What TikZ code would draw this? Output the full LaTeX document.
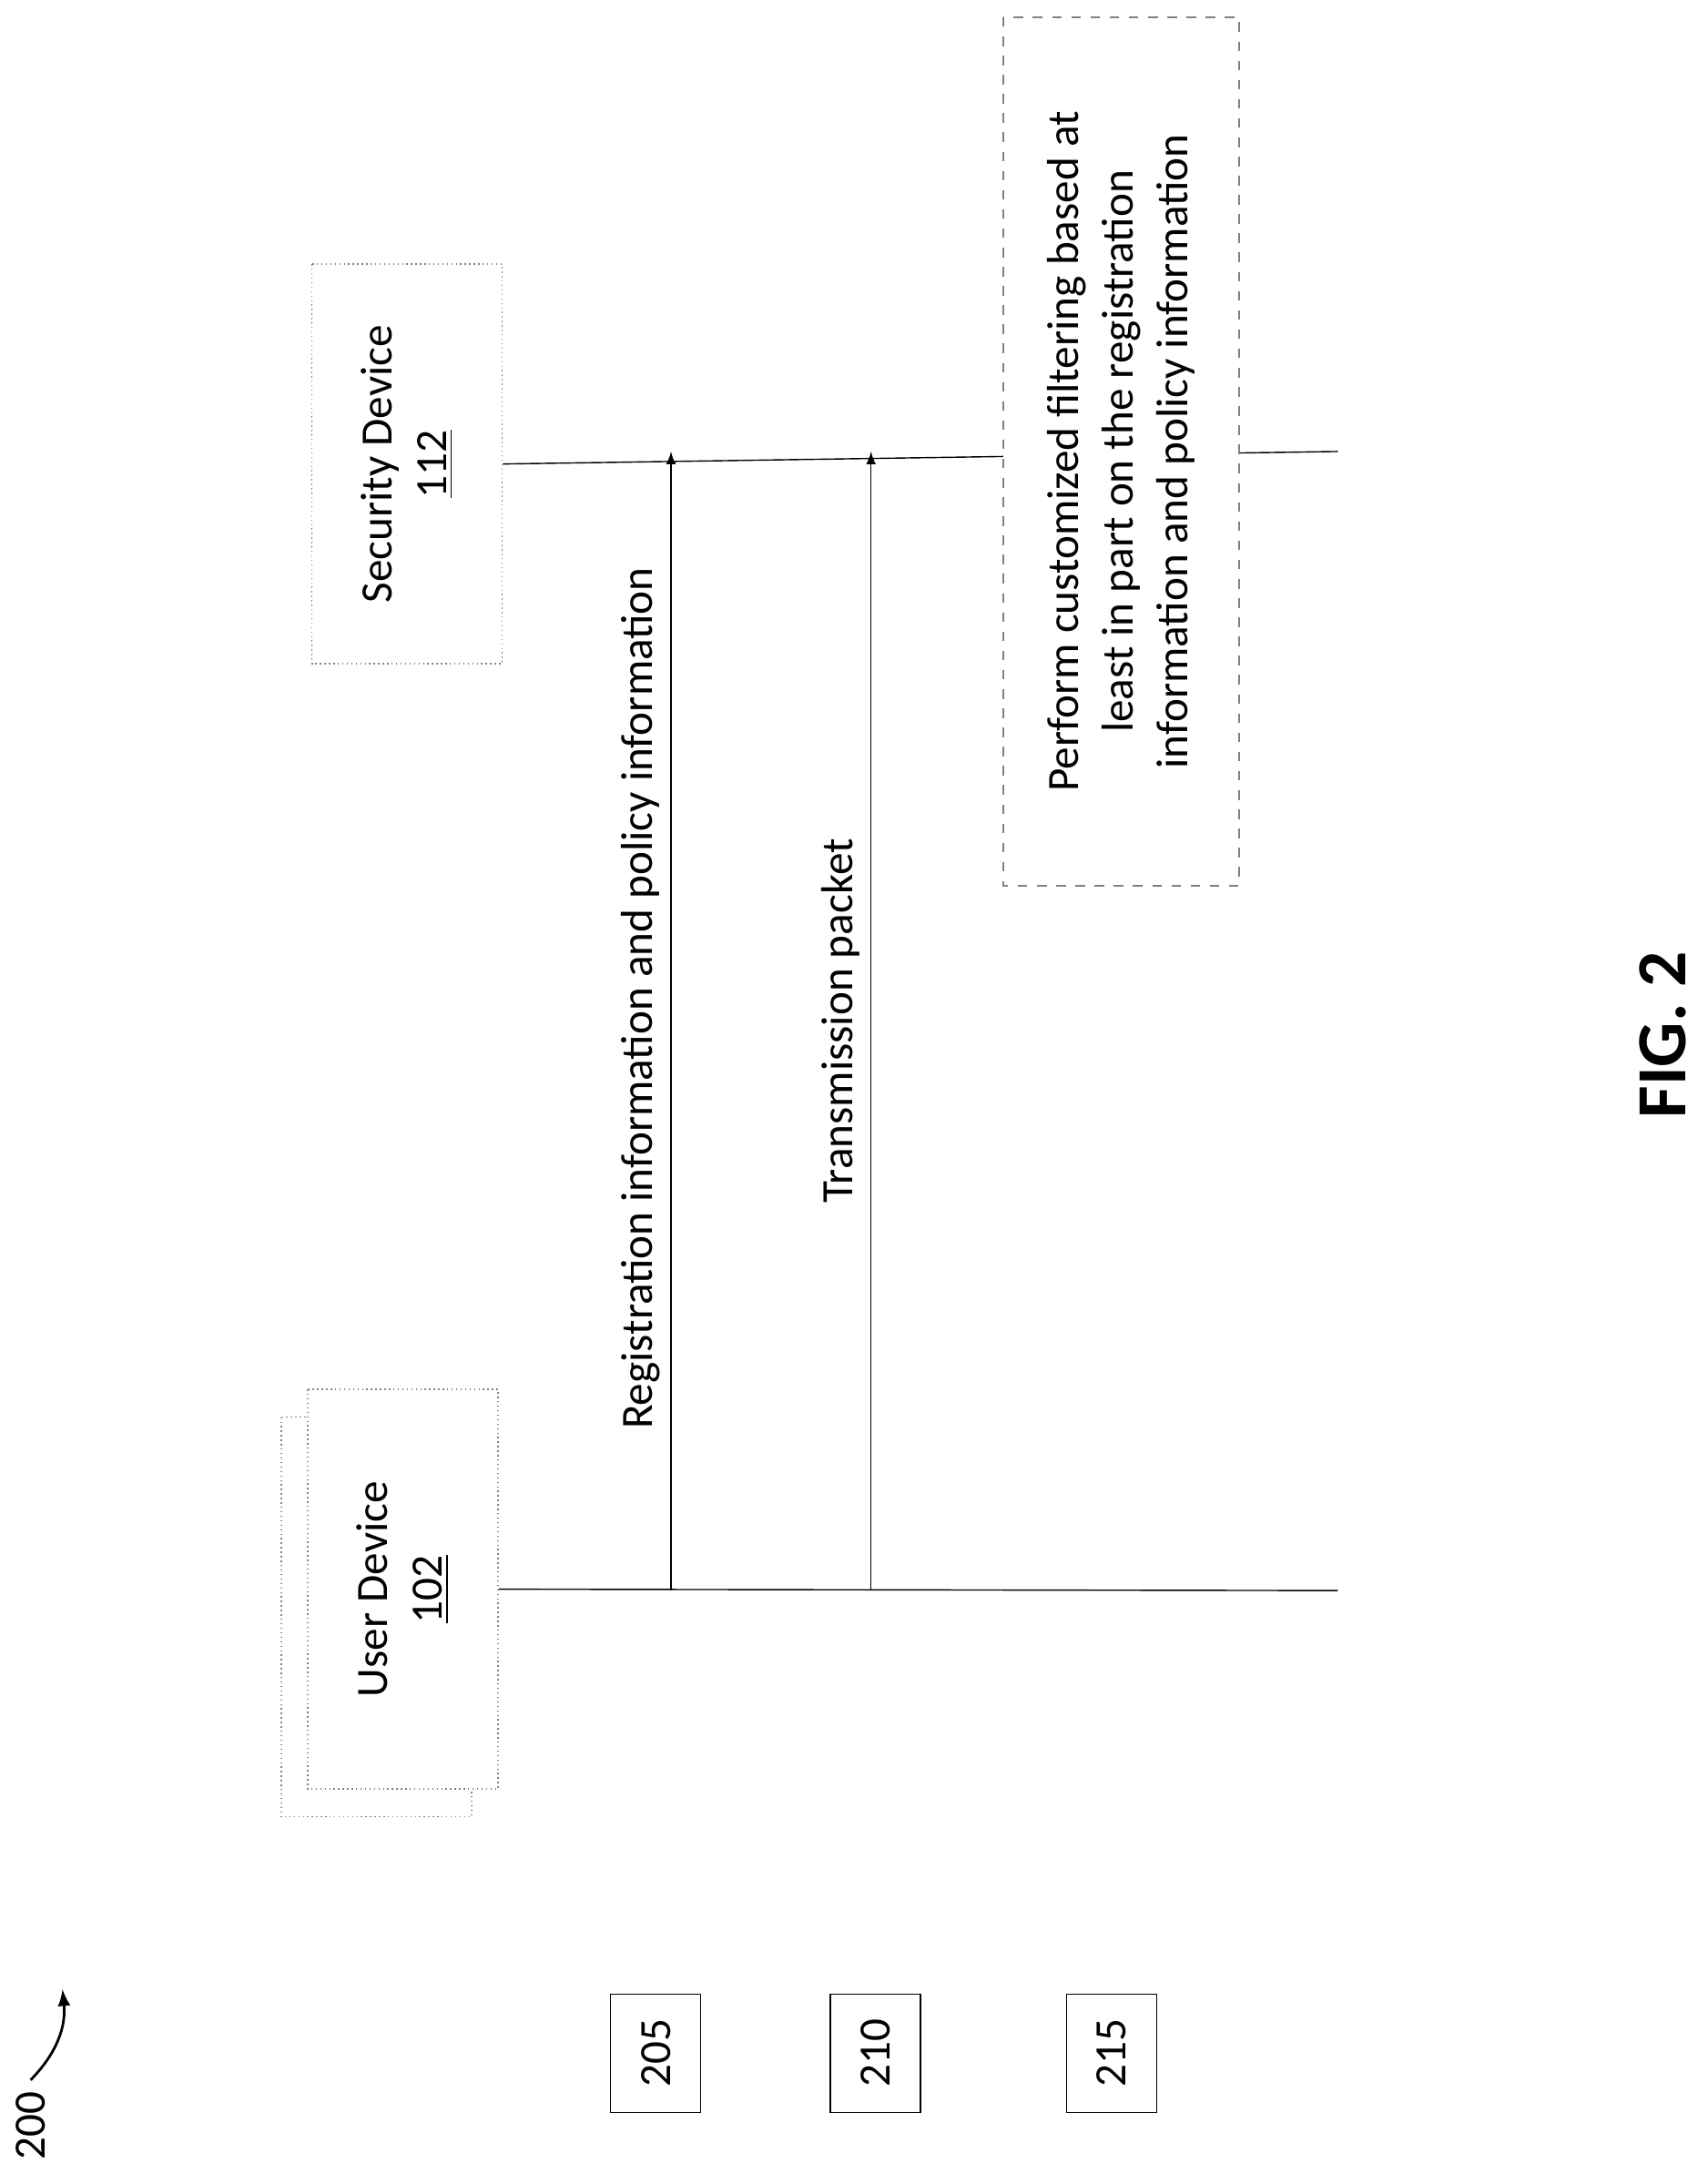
\documentclass[tikz,border=0pt]{standalone}
\usepackage{fontspec}
\setmainfont{Carlito}
\usetikzlibrary{positioning}
\tikzset{
  actorbox/.style={draw=gray, densely dotted, rotate=90, minimum width=4.39cm,
    minimum height=2.09cm, align=center, font=\fontsize{14}{17}\selectfont, fill=white},
  stepbox/.style={draw, rotate=90, minimum width=1.3cm, minimum height=0.99cm,
    font=\fontsize{14}{17}\selectfont},
  msg/.style={-latex, thin},
  msglabel/.style={rotate=90, anchor=south, font=\fontsize{14}{17}\selectfont}
}
\begin{document}
\begin{tikzpicture}[x=0.01526cm, y=-0.01526cm]
    \useasboundingbox (0,0) rectangle (1229,1565);
    % actors
    \node[actorbox](shadow) at (271,1164){};
    \node[actorbox](user) at (290,1144){User Device\\\underline{102}};
    \node[actorbox](sec) at (293,334){Security Device\\\underline{112}};
    % lifelines
    \coordinate (userend) at (963,1145);
    \coordinate (secend) at (963,325);
    \draw (user.south) -- (userend);
    \draw (sec.south) -- (secend);
    % filtering
    \node[actorbox, draw=gray, dashed, minimum width=9.54cm, minimum height=2.59cm]
      (filter) at (807,325){Perform customized filtering based at\\least in part on the registration\\information and policy information};
    % messages
    \coordinate (reg1) at (483,1145);
    \coordinate (reg2) at (483,325);
    \draw[msg] (reg1) -- (reg2) node[msglabel, pos=0.52]{Registration information and policy information};
    \coordinate (pkt1) at (627,1145);
    \coordinate (pkt2) at (627,325);
    \draw[msg] (pkt1) -- (pkt2) node[msglabel, pos=0.5]{Transmission packet};
    % steps
    \node[stepbox](s205) at (472,1478){205};
    \node[stepbox](s210) at (630,1478){210};
    \node[stepbox](s215) at (800,1478){215};
    % figure number
    \node[rotate=90, font=\fontsize{14}{17}\selectfont](fig) at (22,1530){200};
    \coordinate (figarrow) at (45,1432);
    \draw[-latex, thick] (fig.east) to[bend right=25] (figarrow);
    \node[rotate=90, font=\bfseries\fontsize{22}{26}\selectfont](title) at (1197,745){FIG. 2};
\end{tikzpicture}
\end{document}
